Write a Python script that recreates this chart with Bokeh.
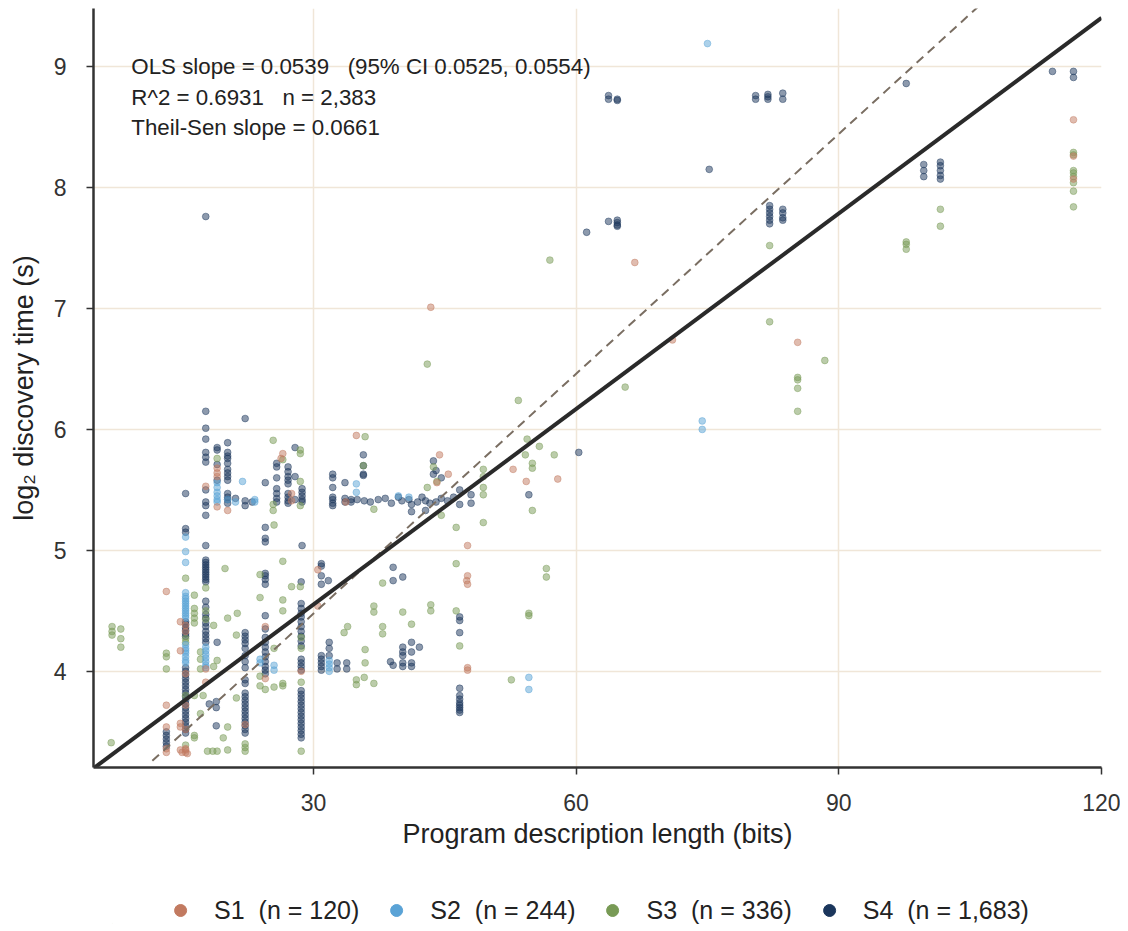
from bokeh.plotting import figure
from bokeh.layouts import column
from bokeh.models import ColumnDataSource, Legend, LegendItem, Label, FixedTicker
from bokeh.embed import file_html
from bokeh.resources import INLINE

FONT = "Liberation Sans"

series_names = ["S1", "S2", "S3", "S4"]
series_counts = ["120", "244", "336", "1,683"]
series_colors = ["#c27a60", "#5aa3d6", "#789a55", "#1b365c"]

x_ticks = [30, 60, 90, 120]
y_ticks = [4, 5, 6, 7, 8, 9]

ols_slope = 0.0539
ols_intercept = 2.935
ols_ci = (0.0525, 0.0554)
r_squared = 0.6931
n_total = "2,383"
theil_slope = 0.0661
theil_intercept = 2.494

s1_points = [
    (13.2, 4.66), (13.2, 3.72), (13.2, 3.54), (13.2, 3.36), (13.2, 3.33),
    (14.8, 4.41), (14.8, 4.17), (14.8, 3.57), (14.8, 3.54), (14.8, 3.35),
    (15.0, 3.33), (15.4, 3.35), (15.6, 3.32), (15.4, 3.33), (15.4, 3.36),
    (15.4, 4.38), (15.4, 4.33), (15.4, 3.98), (15.4, 3.72), (15.4, 3.52),
    (17.7, 5.53), (17.7, 4.02), (17.7, 3.91),
    (19.0, 5.68), (19.0, 5.64), (19.0, 5.61), (19.0, 5.36), (20.2, 5.33),
    (22.2, 3.56), (24.5, 4.37), (24.5, 3.94),
    (26.3, 5.76), (26.5, 5.80), (27.5, 5.47), (27.5, 5.41), (28.6, 4.00),
    (30.5, 4.84), (30.5, 4.54), (33.7, 5.40), (34.9, 5.95),
    (44.4, 5.79), (45.4, 5.63), (44.1, 5.56),
    (47.6, 5.04), (47.6, 4.79), (47.5, 4.75), (47.6, 4.72), (47.6, 4.03), (47.6, 4.01),
    (52.8, 5.67), (54.3, 5.57), (57.9, 5.59), (43.4, 7.01),
    (66.7, 7.38), (71.0, 6.74), (85.3, 6.72),
    (116.8, 8.56), (116.8, 8.26), (116.8, 8.07),
]

s2_points = [
    (15.4, 5.11), (15.4, 4.99), (15.4, 4.90), (15.4, 4.65), (15.4, 4.62), (15.4, 4.60),
    (15.4, 4.58), (15.4, 4.56), (15.4, 4.54), (15.4, 4.52), (15.4, 4.50), (15.4, 4.48),
    (15.4, 4.46), (15.4, 4.44), (15.4, 4.22), (15.4, 4.19), (15.4, 4.17), (15.4, 4.15),
    (15.4, 4.12), (15.4, 4.09), (15.4, 4.07),
    (17.7, 4.20), (17.7, 4.17), (17.7, 4.14), (17.7, 4.11), (17.7, 4.08), (17.7, 4.05), (17.7, 4.03),
    (19.0, 5.56), (19.0, 5.52), (19.0, 5.48), (19.0, 5.45), (19.0, 5.42), (19.0, 5.40),
    (20.2, 5.42), (21.9, 5.57), (21.1, 5.40), (23.3, 5.42), (23.3, 5.40),
    (23.9, 4.10), (23.9, 4.07), (25.5, 4.05), (25.5, 4.01),
    (31.8, 4.09), (31.8, 4.06), (31.8, 4.03), (31.8, 4.00),
    (34.9, 5.55), (34.9, 5.48), (39.7, 5.45), (40.9, 5.44),
    (54.6, 3.95), (54.6, 3.85), (74.4, 6.07), (74.4, 6.00), (75.0, 9.19),
]

s3_points = [
    (7.0, 4.37), (7.0, 4.33), (7.0, 4.30), (8.0, 4.35), (8.0, 4.27), (8.0, 4.20), (6.9, 3.41),
    (13.2, 4.15), (13.2, 4.12), (13.2, 4.02),
    (15.4, 4.77), (15.4, 4.27), (15.4, 4.24), (15.4, 3.39), (15.4, 3.80),
    (16.4, 4.63), (16.4, 4.52), (16.4, 4.48), (16.4, 4.44), (16.4, 4.40),
    (16.4, 3.80), (16.4, 3.47), (16.4, 3.45),
    (17.1, 4.16), (17.1, 4.10), (17.1, 4.02), (17.1, 3.65), (17.4, 3.80),
    (17.7, 4.69), (17.7, 4.50), (17.7, 4.43),
    (17.9, 3.34), (18.5, 3.34), (19.0, 3.34), (20.2, 3.35),
    (18.6, 4.38), (18.6, 4.04), (19.0, 4.09), (19.0, 5.76), (19.9, 4.85),
    (20.2, 4.44), (20.2, 3.54), (19.7, 3.45),
    (21.3, 4.48), (21.2, 4.30), (21.2, 3.78),
    (22.2, 3.40), (22.2, 3.37), (22.2, 3.34),
    (23.9, 4.80), (23.9, 4.61), (23.9, 3.96), (23.9, 3.88), (24.5, 3.85),
    (25.4, 5.91), (25.4, 5.38), (25.4, 5.33), (25.5, 5.21), (25.5, 4.19), (25.5, 3.87),
    (26.5, 5.75), (26.5, 4.91), (26.5, 4.59), (26.5, 4.50), (26.5, 3.90), (26.5, 3.88),
    (27.5, 4.70), (28.5, 4.70),
    (28.5, 5.83), (28.5, 5.80), (28.5, 5.57), (28.5, 5.37),
    (28.6, 4.28), (28.6, 4.19), (28.6, 3.91), (28.6, 3.34),
    (33.5, 4.32), (33.9, 4.37),
    (34.9, 3.93), (34.9, 3.89), (35.8, 3.95), (36.9, 3.90),
    (35.9, 5.94), (35.9, 4.18), (35.9, 4.07), (35.7, 5.70),
    (36.9, 5.34), (36.9, 4.54), (36.9, 4.49),
    (37.9, 4.73), (37.9, 4.37), (37.9, 4.31), (40.2, 4.49), (41.2, 4.39),
    (43.0, 5.52), (43.7, 5.69), (44.1, 5.57), (44.6, 5.29),
    (43.4, 4.55), (43.4, 4.50), (43.0, 6.54),
    (46.3, 5.19), (46.3, 4.89), (46.3, 4.50), (46.7, 4.21),
    (49.4, 5.67), (49.4, 5.61), (49.4, 5.52), (49.4, 5.46), (49.4, 5.23),
    (52.6, 3.93),
    (53.4, 6.24), (54.4, 5.92), (54.2, 5.79), (55.0, 5.72), (55.0, 5.68),
    (55.8, 5.86), (57.5, 5.79), (55.0, 5.33),
    (54.6, 4.48), (54.6, 4.46), (56.6, 4.85), (56.6, 4.78),
    (57.0, 7.40), (65.6, 6.35),
    (82.1, 7.52), (82.1, 6.89),
    (85.3, 6.43), (85.3, 6.41), (85.3, 6.34), (85.3, 6.15), (88.4, 6.57),
    (97.7, 7.55), (97.7, 7.53), (97.7, 7.49), (101.6, 7.82), (101.6, 7.68),
    (116.8, 8.29), (116.8, 8.27), (116.8, 8.14), (116.8, 8.12), (116.8, 8.09),
    (116.8, 8.04), (116.8, 7.97), (116.8, 7.84),
]

s4_points = [
    (13.2, 3.50), (13.2, 3.47), (13.2, 3.44), (13.2, 3.41), (13.2, 3.38),
    (15.4, 5.47), (15.4, 5.18), (15.4, 5.15), (15.4, 4.41), (15.4, 4.39), (15.4, 4.36),
    (15.4, 4.34), (15.4, 4.31), (15.4, 4.29), (15.4, 4.03), (15.4, 4.00), (15.4, 3.97),
    (15.4, 3.94), (15.4, 3.91), (15.4, 3.88), (15.4, 3.85), (15.4, 3.82), (15.4, 3.79),
    (15.4, 3.76), (15.4, 3.73), (15.4, 3.70), (15.4, 3.67), (15.4, 3.64), (15.4, 3.61),
    (15.4, 3.58), (15.4, 3.55), (15.4, 3.52), (15.4, 3.49),
    (17.7, 7.76), (17.7, 6.15), (17.7, 6.01), (17.7, 5.92), (17.7, 5.81), (17.7, 5.77),
    (17.7, 5.73), (17.7, 5.50), (17.7, 5.40), (17.7, 5.37), (17.7, 5.29), (17.7, 5.04),
    (17.7, 4.92), (17.7, 4.90), (17.7, 4.88), (17.7, 4.86), (17.7, 4.84), (17.7, 4.82),
    (17.7, 4.80), (17.7, 4.78), (17.7, 4.76), (17.7, 4.74), (17.7, 4.58), (17.7, 4.53),
    (17.7, 4.47), (17.7, 4.44), (17.7, 4.40), (17.7, 4.37), (17.7, 4.33), (17.7, 4.30),
    (17.7, 4.27), (17.7, 4.24),
    (18.1, 3.73), (18.9, 3.75), (18.9, 3.70), (18.9, 3.55), (19.0, 4.24),
    (19.0, 5.85), (19.0, 5.83), (19.0, 5.71), (19.0, 5.58),
    (20.2, 5.89), (20.2, 5.81), (20.2, 5.78), (20.2, 5.76), (20.2, 5.72), (20.2, 5.67),
    (20.2, 5.64), (20.2, 5.61), (20.2, 5.58), (20.2, 5.47), (20.2, 5.44), (20.2, 5.42),
    (20.2, 5.39),
    (21.1, 5.43), (22.2, 5.41), (22.2, 5.37), (23.0, 5.40), (22.2, 6.09),
    (22.2, 4.32), (22.2, 4.29), (22.2, 4.26), (22.2, 4.23), (22.2, 4.19), (22.2, 4.13),
    (22.2, 4.08), (22.2, 4.03), (22.2, 3.93), (22.2, 3.90), (22.2, 3.82), (22.2, 3.79),
    (22.2, 3.76), (22.2, 3.73), (22.2, 3.70), (22.2, 3.67), (22.2, 3.64), (22.2, 3.61),
    (22.2, 3.58), (22.2, 3.55), (22.2, 3.52), (22.2, 3.49),
    (24.5, 5.56), (24.5, 5.19), (24.5, 5.10), (24.5, 5.07), (24.5, 4.81), (24.5, 4.79),
    (24.5, 4.76), (24.5, 4.72), (24.5, 4.46), (24.5, 4.35), (24.5, 4.28), (24.5, 4.24),
    (24.5, 4.20), (24.5, 4.16), (24.5, 4.12), (24.5, 4.08), (24.5, 4.04), (24.5, 4.01),
    (24.5, 3.98),
    (25.8, 5.72), (25.8, 5.69), (25.8, 5.60), (25.8, 5.51), (25.8, 5.47), (25.8, 5.43),
    (25.8, 5.40),
    (27.1, 5.69), (27.1, 5.65), (27.1, 5.61), (27.1, 5.58), (27.1, 5.55), (27.1, 5.47),
    (27.1, 5.44), (27.1, 5.41), (27.1, 5.39),
    (27.9, 5.85), (27.9, 5.61), (27.9, 5.42),
    (28.7, 5.51), (28.7, 5.48), (28.7, 5.45), (28.7, 5.42), (28.7, 5.40), (28.7, 5.04),
    (28.6, 4.74), (28.6, 4.56), (28.6, 4.52), (28.6, 4.48), (28.6, 4.45), (28.6, 4.41),
    (28.6, 4.37), (28.6, 4.33), (28.6, 4.29), (28.6, 4.25), (28.6, 4.21), (28.6, 4.10),
    (28.6, 4.07), (28.6, 4.04), (28.6, 4.01), (28.6, 3.84), (28.6, 3.81), (28.6, 3.78),
    (28.6, 3.75), (28.6, 3.72), (28.6, 3.69), (28.6, 3.66), (28.6, 3.63), (28.6, 3.60),
    (28.6, 3.57), (28.6, 3.54), (28.6, 3.51), (28.6, 3.48), (28.6, 3.45),
    (30.9, 4.89), (30.9, 4.87), (30.9, 4.79), (30.9, 4.72), (30.9, 4.13), (30.9, 4.10),
    (30.9, 4.07), (30.9, 4.04), (30.9, 4.01),
    (31.7, 4.75), (31.8, 4.24), (31.8, 4.19), (31.8, 4.13),
    (32.7, 4.07), (32.7, 4.02), (33.8, 4.07), (33.8, 4.02),
    (32.2, 5.63), (32.2, 5.60), (32.2, 5.52), (32.2, 5.44), (32.2, 5.42), (32.2, 5.39),
    (32.2, 5.37),
    (33.6, 5.56), (33.6, 5.43), (33.6, 5.40), (34.3, 5.42), (34.3, 5.40),
    (35.7, 5.79), (35.7, 5.70), (35.7, 5.63), (35.7, 5.62),
    (35.0, 5.42), (35.8, 5.41), (36.5, 5.40), (37.4, 5.42), (38.2, 5.43), (38.9, 5.39),
    (39.7, 5.44), (40.1, 5.41), (40.9, 5.42), (41.2, 5.38), (41.9, 5.40), (42.4, 5.44),
    (42.8, 5.41), (43.3, 5.39), (44.0, 5.40), (44.6, 5.43), (45.3, 5.41), (46.0, 5.44),
    (41.2, 5.32), (42.8, 5.33),
    (43.7, 5.74), (44.0, 5.66), (43.7, 5.63), (44.6, 5.60),
    (46.7, 5.50), (46.7, 5.38), (48.0, 5.46), (48.0, 5.39),
    (54.6, 5.46), (60.3, 5.81),
    (39.1, 4.86), (39.1, 4.75), (40.2, 4.78),
    (40.2, 4.20), (40.2, 4.16), (40.2, 4.13), (41.2, 4.24), (41.2, 4.16), (42.1, 4.20),
    (38.8, 4.08), (39.1, 4.05), (40.2, 4.07), (40.2, 4.04), (41.2, 4.07), (41.2, 4.04),
    (46.7, 4.45), (46.7, 4.42), (46.7, 4.32),
    (46.7, 3.86), (46.7, 3.80), (46.7, 3.77), (46.7, 3.74), (46.7, 3.72), (46.7, 3.70),
    (46.7, 3.68), (46.7, 3.66),
    (63.7, 8.73), (63.7, 8.76), (64.7, 8.73), (64.7, 8.72), (75.2, 8.15), (61.2, 7.63),
    (63.7, 7.72), (64.7, 7.73), (64.7, 7.71), (64.7, 7.69), (64.7, 7.68),
    (80.5, 8.73), (80.5, 8.76), (81.9, 8.73), (81.9, 8.75), (81.9, 8.77), (83.6, 8.78),
    (83.6, 8.73),
    (82.1, 7.85), (82.1, 7.82), (82.1, 7.79), (82.1, 7.76), (82.1, 7.73), (82.1, 7.70),
    (83.6, 7.82), (83.6, 7.79), (83.6, 7.75), (83.6, 7.73),
    (97.7, 8.86),
    (99.7, 8.19), (99.7, 8.14), (99.7, 8.09),
    (101.6, 8.21), (101.6, 8.18), (101.6, 8.14), (101.6, 8.10), (101.6, 8.07),
    (114.4, 8.96), (116.8, 8.96), (116.8, 8.91),
]

all_points = [s1_points, s2_points, s3_points, s4_points]

X_MIN, X_MAX = 4.88, 120.0
Y_MIN, Y_MAX = 3.205, 9.48

# ---------------- main plot ----------------
p = figure(
    width=1120, height=890,
    x_range=(X_MIN, X_MAX), y_range=(Y_MIN, Y_MAX),
    output_backend="svg", toolbar_location=None,
    min_border_left=93, min_border_right=19, min_border_top=8, min_border_bottom=123,
)
p.outline_line_color = None
p.background_fill_color = "white"
p.border_fill_color = "white"

p.xgrid.ticker = FixedTicker(ticks=x_ticks)
p.ygrid.ticker = FixedTicker(ticks=y_ticks)
for g in (p.xgrid, p.ygrid):
    g.grid_line_color = "#f0e6d8"
    g.grid_line_width = 1.5

p.xaxis.ticker = FixedTicker(ticks=x_ticks)
p.yaxis.ticker = FixedTicker(ticks=y_ticks)
p.xaxis.axis_label = "Program description length (bits)"
p.yaxis.axis_label = "log\u2082 discovery time (s)"
for ax in (p.xaxis, p.yaxis):
    ax.axis_line_color = "#333333"
    ax.axis_line_width = 2.5
    ax.major_tick_line_color = "#333333"
    ax.major_tick_line_width = 1.5
    ax.major_tick_in = 0
    ax.major_tick_out = 7
    ax.minor_tick_line_color = None
    ax.major_label_text_font = FONT
    ax.major_label_text_font_size = "23px"
    ax.major_label_text_color = "#333333"
    ax.axis_label_text_font = FONT
    ax.axis_label_text_font_size = "27px"
    ax.axis_label_text_font_style = "normal"
    ax.axis_label_text_color = "#222222"
p.xaxis.major_label_standoff = 19
p.yaxis.major_label_standoff = 20
p.xaxis.axis_label_standoff = 5
p.yaxis.axis_label_standoff = 12

for idx in [3, 2, 1, 0]:
    pts = all_points[idx]
    src = ColumnDataSource(data=dict(x=[q[0] for q in pts], y=[q[1] for q in pts]))
    p.scatter("x", "y", source=src, size=6.8, marker="circle",
              fill_color=series_colors[idx], fill_alpha=0.5,
              line_color=series_colors[idx], line_alpha=0.55, line_width=0.8)

theil_x0 = 11.6
tx = [theil_x0, X_MAX]
p.line(tx, [theil_intercept + theil_slope * v for v in tx],
       line_color="#7a6e62", line_width=2, line_dash="9 6")
ox = [X_MIN, X_MAX]
p.line(ox, [ols_intercept + ols_slope * v for v in ox],
       line_color="#2a2a2a", line_width=4)

GAP = " \u00a0 "
ann_lines = [
    f"OLS slope = {ols_slope:.4f}{GAP}(95% CI {ols_ci[0]:.4f}, {ols_ci[1]:.4f})",
    f"R^2 = {r_squared:.4f}{GAP}n = {n_total}",
    f"Theil-Sen slope = {theil_slope:.4f}",
]
ann_y = [9.0, 8.745, 8.495]
for txt, yy in zip(ann_lines, ann_y):
    p.add_layout(Label(x=9.2, y=yy, text=txt, text_font=FONT, text_font_size="22.3px",
                       text_color="#222222", text_baseline="middle", text_align="left"))

# ---------------- legend strip ----------------
lg = figure(
    width=1120, height=40, x_range=(X_MIN, X_MAX), y_range=(Y_MIN, Y_MAX),
    output_backend="svg", toolbar_location=None,
    x_axis_type=None, y_axis_type=None,
    min_border_left=93, min_border_right=19, min_border_top=0, min_border_bottom=0,
)
lg.outline_line_color = None
lg.xgrid.visible = False
lg.ygrid.visible = False

items = []
for i, (name, cnt, col) in enumerate(zip(series_names, series_counts, series_colors)):
    first = all_points[i][0]
    r = lg.scatter(x=[first[0]], y=[first[1]], marker="circle", fill_color=col,
                   line_color=col, fill_alpha=1.0, line_alpha=1.0, size=0.01)
    items.append(LegendItem(label=f"{name} \u00a0(n = {cnt})", renderers=[r]))
legend = Legend(items=items, orientation="horizontal", location="center",
                label_text_font=FONT, label_text_font_size="25px", label_text_color="#222222",
                glyph_width=30, glyph_height=30, label_standoff=19, spacing=22,
                border_line_color=None, background_fill_alpha=0, margin=0, padding=3)
lg.add_layout(legend, "center")

layout = column(p, lg, spacing=0)
open("out.html", "w").write(file_html(layout, INLINE))
